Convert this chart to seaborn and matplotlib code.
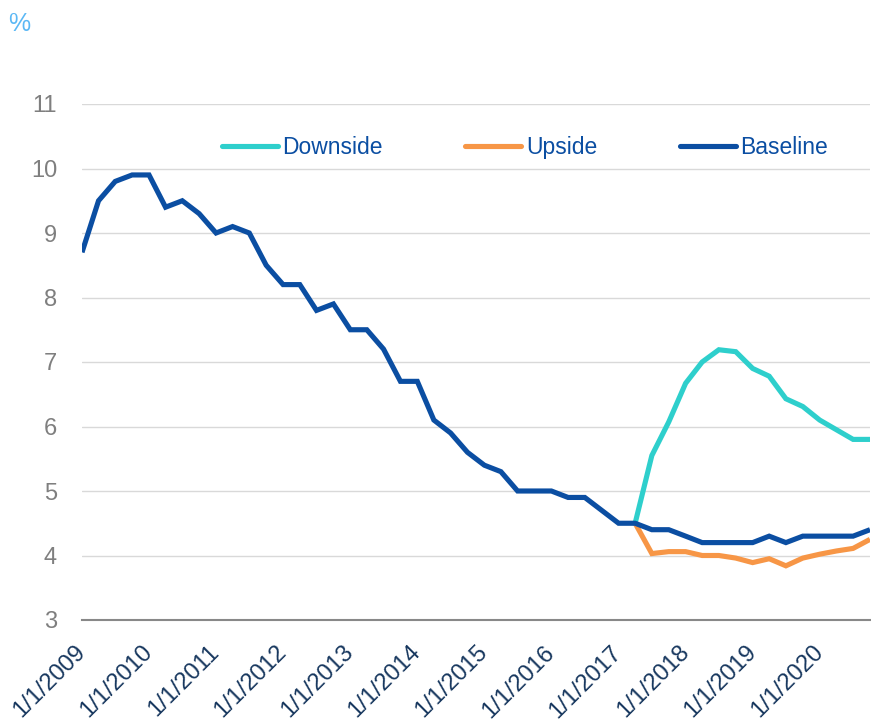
import matplotlib
matplotlib.use("Agg")
import matplotlib.pyplot as plt
import seaborn as sns
import pandas as pd
import numpy as np

quarters = pd.date_range("2009-01-01", periods=48, freq="QS")

baseline = [8.7, 9.5, 9.8, 9.9, 9.9, 9.4, 9.5, 9.3,
            9.0, 9.1, 9.0, 8.5, 8.2, 8.2, 7.8, 7.9,
            7.5, 7.5, 7.2, 6.7, 6.7, 6.1, 5.9, 5.6,
            5.4, 5.3, 5.0, 5.0, 5.0, 4.9, 4.9, 4.7,
            4.5, 4.5, 4.4, 4.4, 4.3, 4.2, 4.2, 4.2,
            4.2, 4.3, 4.2, 4.3, 4.3, 4.3, 4.3, 4.4]

# scenario paths begin in 2017Q2
scenario_start = 33
downside = [4.5, 5.55, 6.07, 6.67, 7.0, 7.19, 7.16, 6.9,
            6.78, 6.43, 6.31, 6.1, 5.95, 5.8, 5.8]
upside = [4.5, 4.03, 4.06, 4.06, 4.0, 4.0, 3.96, 3.89,
          3.95, 3.84, 3.96, 4.02, 4.07, 4.11, 4.25]

series_names = ["Downside", "Upside", "Baseline"]
colors = {"Downside": "#2ECFCC", "Upside": "#F79646", "Baseline": "#0B4EA2"}
year_ticks = pd.date_range("2009-01-01", "2020-01-01", freq="YS")
tick_labels = [f"1/1/{d.year}" for d in year_ticks]
y_ticks = [3, 4, 5, 6, 7, 8, 9, 10, 11]

frames = [
    pd.DataFrame({"date": quarters[scenario_start:], "value": downside, "series": "Downside"}),
    pd.DataFrame({"date": quarters[scenario_start:], "value": upside, "series": "Upside"}),
    pd.DataFrame({"date": quarters, "value": baseline, "series": "Baseline"}),
]
df = pd.concat(frames, ignore_index=True)

sns.set_theme(style="white")
plt.rcParams["font.family"] = ["Liberation Sans", "DejaVu Sans"]

fig = plt.figure(figsize=(8.71, 7.21), dpi=100)
ax = fig.add_axes([82 / 871, 101 / 721, (870 - 82) / 871, (620 - 104) / 721])

sns.lineplot(data=df, x="date", y="value", hue="series", hue_order=series_names,
             palette=colors, linewidth=3.7, ax=ax, legend=True)
for ln in ax.get_lines():
    ln.set_solid_capstyle("butt")
    ln.set_solid_joinstyle("miter")

ax.set_ylim(3, 11)
ax.set_xlim(quarters[0], quarters[-1])
ax.set_yticks(y_ticks)
ax.set_yticklabels([str(v) for v in y_ticks], color="#7F7F7F", fontsize=17)
ax.set_xticks(year_ticks)
ax.set_xticklabels(tick_labels, rotation=45, ha="right", va="center",
                   rotation_mode="anchor", color="#17375E", fontsize=17)
ax.tick_params(axis="x", direction="out", length=7, width=1.2, color="#888888", pad=14)
ax.tick_params(axis="y", length=0, pad=18)
ax.set_xlabel("")
ax.set_ylabel("")

ax.yaxis.grid(True, color="#D9D9D9", linewidth=1)
ax.set_axisbelow(True)
for s in ["left", "right", "top"]:
    ax.spines[s].set_visible(False)
ax.spines["bottom"].set_color("#888888")
ax.spines["bottom"].set_linewidth(1.5)

handles, labels = ax.get_legend_handles_labels()
leg = ax.legend(handles, labels, ncol=3, loc="center", bbox_to_anchor=(0.562, 0.915),
                frameon=False, fontsize=16.5, handlelength=2.45, handletextpad=0.2,
                columnspacing=3.6)
for t in leg.get_texts():
    t.set_color("#0B4EA2")
for h in leg.get_lines():
    h.set_linewidth(3.7)
    h.set_solid_capstyle("round")

fig.text(8 / 871, 1 - 31 / 721, "%", color="#5BB8F5", fontsize=18, ha="left", va="baseline")

fig.savefig("out.png", dpi=100)
